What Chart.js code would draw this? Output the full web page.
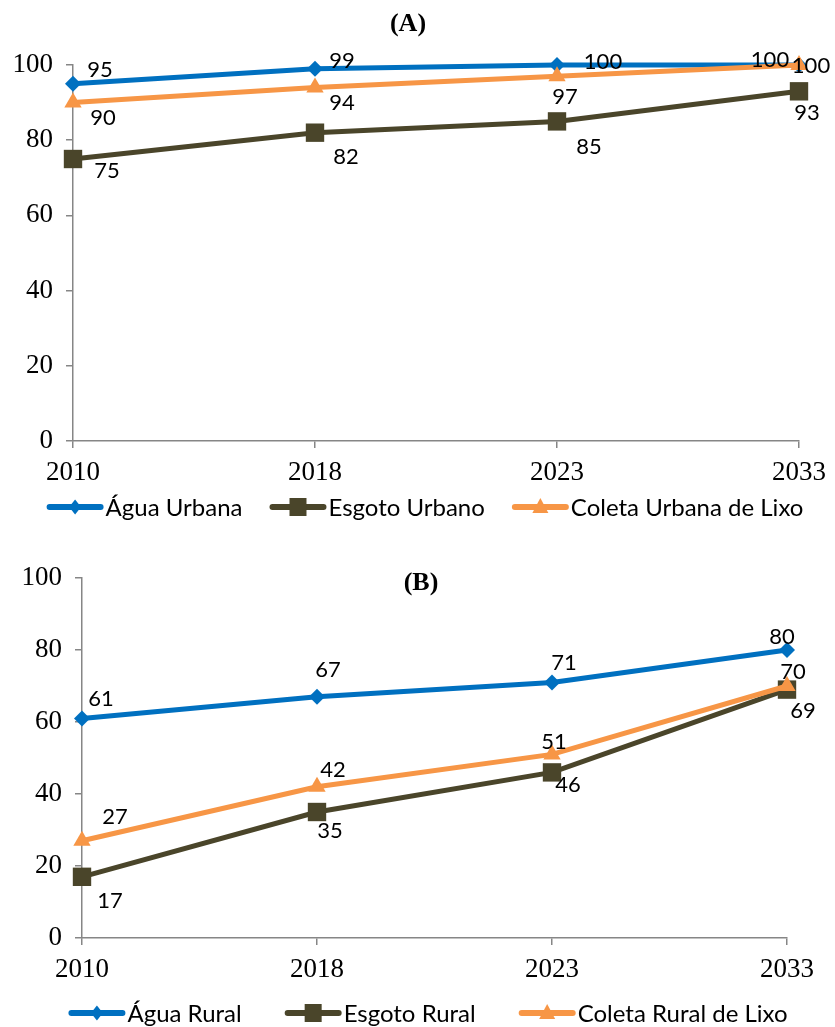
<!DOCTYPE html>
<html lang="pt">
<head>
<meta charset="UTF-8">
<title>Cobertura de saneamento urbano e rural</title>
<script src="https://cdn.jsdelivr.net/npm/chart.js"></script>
<style>
  body { margin: 0; background: #fff; }
  canvas { display: block; }
</style>
</head>
<body>
<canvas id="graficoA" width="835" height="540"></canvas>
<canvas id="graficoB" width="835" height="487"></canvas>

<script>
// anos e percentuais de atendimento
const anos = ['2010', '2018', '2023', '2033'];

const aguaUrbana   = [95, 99, 100, 100];
const esgotoUrbano = [75, 82, 85, 93];
const coletaUrbana = [90, 94, 97, 100];

const aguaRural   = [61, 67, 71, 80];
const esgotoRural = [17, 35, 46, 69];
const coletaRural = [27, 42, 51, 70];

const AZUL = '#0070C0';
const OLIVA = '#4A452A';
const LARANJA = '#F79646';
const CINZA = '#868686';

// desenha o marcador da legenda (losango, quadrado ou triângulo)
function marcador(ctx, tipo, x, y, cor) {
  ctx.fillStyle = cor;
  ctx.beginPath();
  if (tipo === 'rectRot') {
    ctx.moveTo(x, y - 7.5); ctx.lineTo(x + 6, y); ctx.lineTo(x, y + 7.5); ctx.lineTo(x - 6, y);
  } else if (tipo === 'rect') {
    ctx.rect(x - 8.5, y - 9, 17, 18);
  } else {
    ctx.moveTo(x, y - 9); ctx.lineTo(x + 8, y + 6); ctx.lineTo(x - 8, y + 6);
  }
  ctx.closePath();
  ctx.fill();
}

// rótulos de valor, título e legenda no estilo do Excel
const extras = {
  id: 'extras',
  afterDatasetsDraw(chart) {
    const ctx = chart.ctx;
    ctx.save();
    ctx.font = '22px Lato';
    ctx.fillStyle = '#000';
    ctx.textAlign = 'center';
    ctx.textBaseline = 'middle';
    chart.data.datasets.forEach((ds, i) => {
      chart.getDatasetMeta(i).data.forEach((pt, j) => {
        const [dx, dy] = ds.rotuloDesloc[j];
        ctx.fillText(ds.data[j], pt.x + dx, pt.y + dy);
      });
    });
    ctx.restore();
  },
  afterDraw(chart, args, opts) {
    const ctx = chart.ctx;
    ctx.save();
    // título
    ctx.font = 'bold 26px "Liberation Serif"';
    ctx.fillStyle = '#000';
    ctx.textAlign = 'center';
    ctx.textBaseline = 'middle';
    ctx.fillText(opts.titulo, opts.tituloX, opts.tituloY);

    // legenda
    ctx.font = '24px Lato';
    ctx.textAlign = 'left';
    const linha = 57, folga = 2, espaco = opts.legendaEspaco;
    const itens = chart.data.datasets.map(ds => ({ ds, w: linha + folga + ctx.measureText(ds.label).width }));
    const total = itens.reduce((s, it) => s + it.w, 0) + espaco * (itens.length - 1);
    let x = opts.legendaX - total / 2;
    const y = opts.legendaY;
    itens.forEach(({ ds, w }) => {
      ctx.strokeStyle = ds.borderColor;
      ctx.lineWidth = 6;
      ctx.lineCap = 'round';
      ctx.beginPath();
      ctx.moveTo(x + 3, y); ctx.lineTo(x + linha - 3, y);
      ctx.stroke();
      marcador(ctx, ds.pointStyle, x + linha / 2, y, ds.borderColor);
      ctx.fillStyle = '#000';
      ctx.fillText(ds.label, x + linha + folga, y + 1);
      x += w + espaco;
    });
    ctx.restore();
  }
};

function serie(label, data, cor, estilo, raio, ordem, desloc) {
  return {
    label, data,
    borderColor: cor, backgroundColor: cor,
    borderWidth: 5,
    pointStyle: estilo, pointRadius: raio, pointHoverRadius: raio,
    pointBackgroundColor: cor, pointBorderWidth: 0,
    tension: 0, clip: false, order: ordem,
    rotuloDesloc: desloc
  };
}

function eixos(largY) {
  const grade = { display: true, drawOnChartArea: false, drawTicks: true, tickLength: 7, color: CINZA, lineWidth: 1.5 };
  const fonte = { family: '"Liberation Serif"', size: 27 };
  return {
    x: {
      offset: false,
      grid: grade,
      border: { color: CINZA, width: 1.5 },
      ticks: { font: fonte, color: '#000', padding: 9, maxRotation: 0, autoSkip: false },
      afterFit(s) { s.height = 45; }
    },
    y: {
      min: 0, max: 100,
      grid: grade,
      border: { color: CINZA, width: 1.5 },
      ticks: { stepSize: 20, font: fonte, color: '#000', padding: 13 },
      afterFit(s) { s.width = largY; }
    }
  };
}

// (A) área urbana
new Chart(document.getElementById('graficoA'), {
  type: 'line',
  data: {
    labels: anos,
    datasets: [
      serie('Água Urbana', aguaUrbana, AZUL, 'rectRot', 8, 3, [[27, -14], [27, -8], [46, -3], [12, 1]]),
      serie('Esgoto Urbano', esgotoUrbano, OLIVA, 'rect', 13, 2, [[34, 12], [31, 24], [32, 26], [8, 22]]),
      serie('Coleta Urbana de Lixo', coletaUrbana, LARANJA, 'triangle', 10, 1, [[30, 15], [27, 15], [8, 21], [-29, -5]])
    ]
  },
  options: {
    responsive: false,
    animation: false,
    layout: { padding: { left: 0, right: 35, top: 65, bottom: 54 } },
    scales: eixos(73),
    plugins: {
      legend: { display: false },
      tooltip: { enabled: false },
      extras: { titulo: '(A)', tituloX: 408, tituloY: 24, legendaX: 425, legendaY: 507, legendaEspaco: 27 }
    }
  },
  plugins: [extras]
});

// (B) área rural
new Chart(document.getElementById('graficoB'), {
  type: 'line',
  data: {
    labels: anos,
    datasets: [
      serie('Água Rural', aguaRural, AZUL, 'rectRot', 8, 3, [[19, -19], [11, -27], [12, -19], [-5, -13]]),
      serie('Esgoto Rural', esgotoRural, OLIVA, 'rect', 13, 2, [[28, 24], [13, 19], [16, 13], [16, 21]]),
      serie('Coleta Rural de Lixo', coletaRural, LARANJA, 'triangle', 10, 1, [[33, -24], [16, -17], [2, -12], [6, -14]])
    ]
  },
  options: {
    responsive: false,
    animation: false,
    layout: { padding: { left: 0, right: 48, top: 38, bottom: 44 } },
    scales: eixos(82),
    plugins: {
      legend: { display: false },
      tooltip: { enabled: false },
      extras: { titulo: '(B)', tituloX: 421, tituloY: 43, legendaX: 428, legendaY: 473, legendaEspaco: 43 }
    }
  },
  plugins: [extras]
});
</script>
</body>
</html>
